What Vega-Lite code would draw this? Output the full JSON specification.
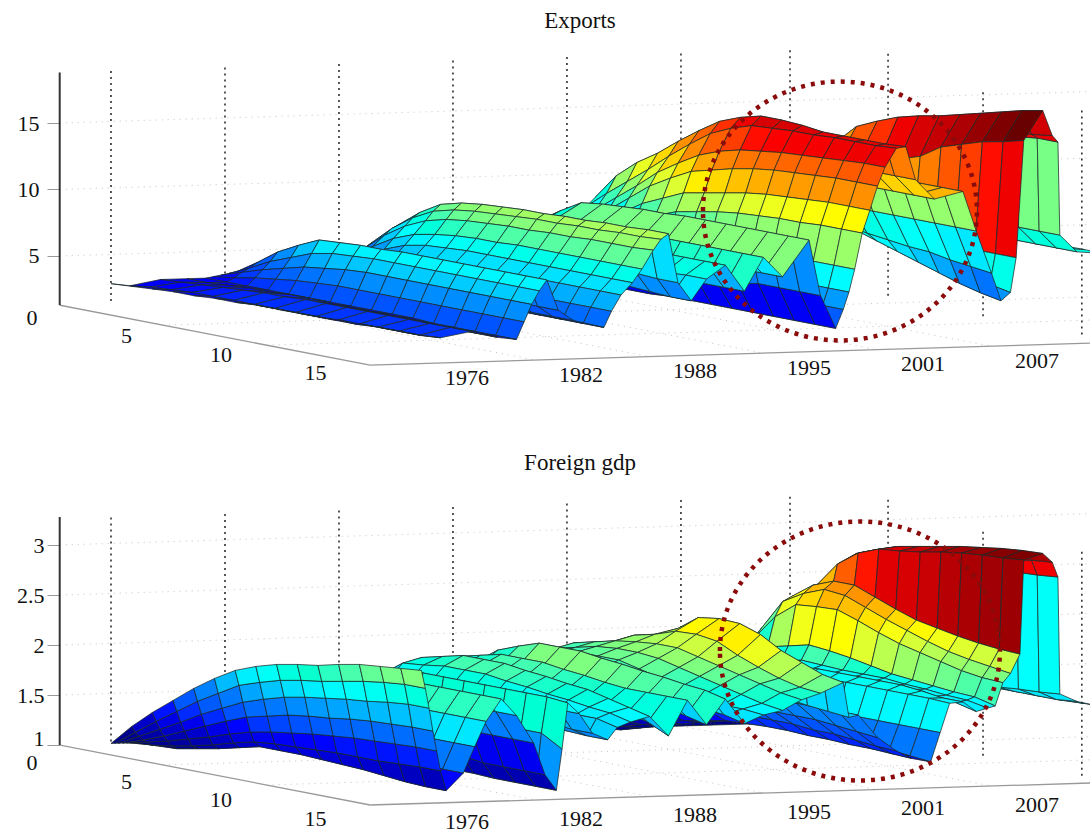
{"$schema":"https://vega.github.io/schema/vega-lite/v6.json","background":"white","padding":0,"spacing":0,"autosize":{"type":"pad"},"config":{"view":{"stroke":null},"concat":{"spacing":0}},
"datasets":{
"exports":[
{"t":36,"z":[4.8,5.4,6,6.8,7.5,7.8,8,8,8,8,8,8,8,8,8,8]},
{"t":34.5,"z":[4.8,5.4,6,6.8,7.5,7.8,8,8.1,8.2,8.2,8.2,8.2,8.2,8.2,8.2,8.2]},
{"t":33.6,"z":[4.8,5.6,6.5,7.3,8,8.3,8.5,8.8,9,9.1,9.2,9.3,9.4,9.5,9.5,9.5]},
{"t":33.5,"z":[4.8,5.9,7,8.5,10,11.5,13,13.5,14,14.5,15,15.5,16,16.3,16.5,16.5]},
{"t":33.2,"z":[5,6.2,7.5,9.2,11,12.5,14,14.5,15,15.3,15.5,15.9,16.3,16.6,16.8,17]},
{"t":32.7,"z":[5,6.5,8,10,12,13.5,15,15.7,16.3,16.7,17,17.4,17.8,18.2,18.6,18.9]},
{"t":31.7,"z":[5,6.5,8,9.5,11,12,12.5,12.8,13,13.5,14,15,15.5,16,16.3,16.7]},
{"t":31.3,"z":[5,5.7,6.5,7,7.6,7.8,8,8.1,8.2,8.1,8,8,7.9,7.9,7.9,7.9]},
{"t":31,"z":[5,5.7,6.5,7,7.5,7.7,7.9,7.9,7.9,7.5,7.1,6.7,6.3,5.9,5.6,5.3]},
{"t":30.5,"z":[5,5.7,6.5,7,7.5,7.7,7.9,7.9,7.9,7.4,6.9,6.4,5.9,5.4,5,4.7]},
{"t":30,"z":[5,6,7,7.5,8,8.2,8.3,8.3,8.3,8,7.8,7.6,7.5,7.2,7,6.8]},
{"t":29.2,"z":[5,6.2,7.5,8.5,9.5,9.7,9.8,9.8,9.8,9.9,10,10,10,10,10,10]},
{"t":28.5,"z":[5,6.5,8,9.2,10.5,11.2,11.8,12.2,12.5,12.7,12.8,12.9,13,13,13,13]},
{"t":27,"z":[5,6.5,8,9.2,10.5,11.3,12,12.2,12.4,12.5,12.5,12.5,12.5,12.5,12.5,12.5]},
{"t":26,"z":[6,7.5,9,10.2,11.5,12.6,13.5,13.8,14,14,14,14,14,14,14,14]},
{"t":25.5,"z":[8.2,10.1,11.4,12.4,13.6,14.7,15.7,16.3,16.7,16.7,16.6,16.4,16.4,16.4,16.4,16.5]},
{"t":25,"z":[7.5,8.8,10,11.2,12.5,13.7,14.8,15.5,16,16.1,16.2,16.2,16.3,16.3,16.3,16.4]},
{"t":24.4,"z":[6.5,7.6,8.8,10,11.3,12.3,13.2,13.8,14.2,14.4,14.6,14.7,14.8,14.9,15,15]},
{"t":24,"z":[5.6,6.8,7.9,9.1,10.3,11.2,12,12.4,12.8,13.1,13.3,13.4,13.5,13.6,13.6,13.6]},
{"t":23.6,"z":[5,6,7,8,9,9.7,10.4,10.7,11,11.3,11.5,11.6,11.7,11.8,11.8,11.8]},
{"t":23.2,"z":[4.5,5.2,6,6.9,7.8,8.4,9,9.3,9.6,9.8,9.9,10,10,10.1,10.1,10.1]},
{"t":22.8,"z":[4,4.5,5,5.6,6.2,6.6,7,7.1,7.2,7.3,7.3,7.4,7.4,7.4,7.4,7.4]},
{"t":22.5,"z":[3.5,3.8,4.2,4.6,5,5.3,5.5,5.6,5.6,5.7,5.7,5.7,5.7,5.7,5.7,5.7]},
{"t":22.2,"z":[3.2,3.5,3.7,3.9,4,4.1,4.2,4.3,4.3,4.3,4.3,4.4,4.4,4.4,4.4,4.4]},
{"t":21.8,"z":[2.9,2.9,2.9,2.9,2.9,2.9,2.9,3,3,3,3,3,3,3,3,3]},
{"t":21,"z":[3.6,4,4.5,4.8,5,5,5,5,5,5,5,5.2,5.5,5.5,5.5,5.5]},
{"t":20.4,"z":[4.2,5.8,7.3,8.3,9.2,9.4,9.5,9.6,9.6,9.7,9.7,9.7,9.7,9.7,9.7,9.7]},
{"t":19,"z":[4,5.2,6.5,7.3,8,8,8,7.8,7.5,7.2,7,7,7,7,7,7]},
{"t":18,"z":[4,5.2,6.5,7.3,8,8.3,8.5,8.5,8.5,8.5,8.5,8.5,8.5,8.5,8.5,8.5]},
{"t":17,"z":[4,5,6,6.5,7,6.9,6.8,6.6,6.5,6.2,6,6,6,6,6,6]},
{"t":16,"z":[4,5.2,6.5,7.2,7.8,7.9,8,8,8,8,8,8,8,8,8,8]},
{"t":15,"z":[3.8,4.9,6,6.5,7,7,7,6.9,6.8,6.8,6.8,6.8,6.8,6.9,7,7]},
{"t":14.2,"z":[3.8,4.6,5.5,5.9,6.2,6.1,6,5.9,5.8,5.8,5.8,5.7,5.6,5.5,5.4,5.4]},
{"t":13.5,"z":[3.8,4.9,6,6.5,7,7.3,7.5,7.4,7.3,7.1,7,7,7,6.9,6.8,6.8]},
{"t":13,"z":[3.9,5.8,7.3,8.5,9.4,9.8,10,10.1,10.2,10.2,10.3,10.3,10.4,10.4,10.5,10.5]},
{"t":12.6,"z":[3.8,5.6,7,8.1,8.9,9.3,9.5,9.6,9.7,9.8,9.8,9.9,9.9,10,10,10.1]},
{"t":12.2,"z":[3.7,5.2,6.5,7.5,8.2,8.6,8.8,8.9,9,9,9.1,9.1,9.2,9.2,9.2,9.3]},
{"t":11.6,"z":[3.5,4.7,5.7,6.6,7.2,7.5,7.7,7.8,7.8,7.9,7.9,7.9,7.9,7.9,7.9,7.9]},
{"t":11.1,"z":[3.3,4.2,5,5.8,6.4,6.7,6.8,6.9,6.9,6.9,6.9,6.9,6.9,6.9,6.9,6.9]},
{"t":10.5,"z":[3.1,3.8,4.4,5,5.5,5.8,5.9,6,6,6,6,6,6,6,6,6]},
{"t":10,"z":[3,3.4,3.8,4.2,4.5,4.7,4.8,4.8,4.8,4.8,4.8,4.8,4.8,4.8,4.8,4.8]},
{"t":9.6,"z":[3,3.2,3.3,3.4,3.5,3.5,3.6,3.6,3.6,3.6,3.6,3.6,3.6,3.6,3.6,3.6]},
{"t":8,"z":[3.2,3.4,3.6,3.8,4,4.1,4.2,4.2,4.2,4.2,4.2,4.2,4.2,4.2,4.2,4.2]},
{"t":7.2,"z":[3.3,3.6,4,4.4,4.8,4.9,5,5,5,5,5,5,5,5,5,5]},
{"t":6.6,"z":[3.4,4.4,5.5,6.3,7,7.1,7.2,7.2,7.3,7.3,7.3,7.3,7.3,7.3,7.3,7.3]},
{"t":6.2,"z":[3.3,4,4.8,5.4,6,6.3,6.4,6.5,6.5,6.5,6.5,6.5,6.5,6.5,6.5,6.5]},
{"t":5.8,"z":[3.2,3.7,4.2,4.6,5,5.2,5.4,5.5,5.5,5.5,5.5,5.5,5.5,5.5,5.5,5.5]},
{"t":5.4,"z":[3.1,3.3,3.6,3.8,4,4.1,4.2,4.2,4.2,4.2,4.2,4.2,4.2,4.2,4.2,4.2]},
{"t":5,"z":[3,3,3,3,3,3,3,3,3,3,3,2.9,2.9,2.9,2.9,2.9]},
{"t":4,"z":[3,3,3.1,3.2,3.2,3.3,3.3,3.2,3.2,3.2,3.2,3.2,3.1,3.1,3.1,3.1]},
{"t":2.6,"z":[3,3.1,3.2,3.3,3.4,3.5,3.5,3.6,3.6,3.6,3.6,3.6,3.6,3.6,3.6,3.6]},
{"t":1,"z":[2.6,2.8,2.9,3,3,3,3,3,3,3,3,3,3.1,3.1,3.1,3.2]},
{"t":0,"z":[2.8,2.9,3,3.1,3.1,3.2,3.2,3.3,3.3,3.3,3.3,3.4,3.4,3.4,3.4,3.4]}
],
"gdp":[
{"t":36,"z":[1,1.2,1.4,1.5,1.6,1.65,1.7,1.72,1.75,1.75,1.75,1.75,1.75,1.75,1.75,1.75]},
{"t":34.5,"z":[1,1.2,1.4,1.55,1.65,1.7,1.75,1.78,1.8,1.8,1.8,1.8,1.8,1.8,1.8,1.82]},
{"t":33.6,"z":[1,1.2,1.4,1.55,1.7,1.75,1.8,1.82,1.85,1.85,1.85,1.85,1.85,1.87,1.88,1.9]},
{"t":33.5,"z":[1,1.4,1.85,2.15,2.4,2.65,2.85,2.9,2.95,2.97,3,3.01,3.03,3.04,3.05,3.07]},
{"t":33.2,"z":[1,1.4,1.85,2.15,2.4,2.65,2.85,2.93,3,3.03,3.05,3.08,3.12,3.16,3.2,3.22]},
{"t":32.7,"z":[1,1.45,1.9,2.2,2.5,2.75,2.95,3.03,3.1,3.14,3.18,3.22,3.25,3.28,3.3,3.31]},
{"t":31.7,"z":[1,1.45,1.9,2.16,2.45,2.6,2.85,3,3.08,3.1,3.13,3.17,3.2,3.22,3.23,3.25]},
{"t":31.5,"z":[1,1.4,1.85,2.15,2.45,2.6,2.68,2.68,2.6,2.52,2.45,2.41,2.37,2.34,2.32,2.31]},
{"t":31,"z":[1,1.4,1.8,2.1,2.4,2.52,2.6,2.58,2.5,2.42,2.35,2.28,2.22,2.18,2.15,2.12]},
{"t":30.6,"z":[1,1.35,1.75,2,2.25,2.41,2.43,2.44,2.37,2.29,2.22,2.17,2.12,2.07,2.04,2.03]},
{"t":30.2,"z":[1,1.3,1.6,1.8,1.95,2,2.05,2.03,2,1.96,1.92,1.9,1.88,1.86,1.85,1.8]},
{"t":29.8,"z":[1,1.3,1.55,1.7,1.8,1.85,1.9,1.89,1.88,1.88,1.88,1.86,1.85,1.83,1.82,1.78]},
{"t":29.2,"z":[1,1.25,1.5,1.65,1.75,1.8,1.85,1.85,1.85,1.85,1.85,1.85,1.85,1.82,1.8,1.75]},
{"t":28.5,"z":[1,1.22,1.45,1.6,1.7,1.78,1.85,1.88,1.9,1.9,1.9,1.9,1.9,1.88,1.85,1.85]},
{"t":27.8,"z":[1,1.2,1.4,1.5,1.6,1.65,1.7,1.75,1.8,1.83,1.85,1.85,1.85,1.85,1.85,1.84]},
{"t":27.3,"z":[1,1.12,1.25,1.33,1.4,1.45,1.5,1.53,1.55,1.55,1.55,1.55,1.55,1.55,1.55,1.55]},
{"t":26.8,"z":[0.98,1.04,1.1,1.16,1.22,1.27,1.3,1.33,1.35,1.35,1.35,1.34,1.32,1.3,1.28,1.26]},
{"t":25.8,"z":[1,1.06,1.12,1.18,1.24,1.28,1.32,1.33,1.34,1.34,1.33,1.33,1.32,1.32,1.31,1.3]},
{"t":25,"z":[1,1.08,1.15,1.23,1.3,1.36,1.41,1.43,1.45,1.45,1.45,1.43,1.43,1.41,1.39,1.38]},
{"t":24,"z":[1,1.12,1.22,1.33,1.4,1.47,1.54,1.56,1.58,1.58,1.58,1.58,1.58,1.56,1.54,1.52]},
{"t":23,"z":[1,1.2,1.4,1.52,1.6,1.68,1.75,1.75,1.75,1.75,1.75,1.75,1.75,1.75,1.75,1.75]},
{"t":22.5,"z":[1,1.28,1.55,1.66,1.75,1.8,1.85,1.85,1.85,1.85,1.85,1.82,1.8,1.77,1.75,1.73]},
{"t":22.2,"z":[1,1.3,1.6,1.8,1.95,2.03,2.2,2.3,2.45,2.48,2.47,2.4,2.28,2.2,2.12,2.08]},
{"t":21,"z":[1,1.35,1.7,1.9,2.05,2.1,2.2,2.25,2.32,2.33,2.3,2.2,2.12,2.05,2,1.98]},
{"t":20,"z":[1,1.35,1.7,1.9,2.05,2.1,2.15,2.18,2.2,2.2,2.15,2.1,2.05,2,1.95,1.92]},
{"t":19,"z":[1,1.3,1.65,1.85,2,2.05,2.1,2.12,2.12,2.1,2.05,2,1.95,1.9,1.85,1.82]},
{"t":18,"z":[1,1.3,1.6,1.8,1.95,2,2.05,2.05,2.05,2,1.95,1.9,1.85,1.8,1.8,1.78]},
{"t":17,"z":[1,1.3,1.6,1.75,1.85,1.9,1.95,1.95,1.95,1.92,1.9,1.85,1.8,1.77,1.75,1.7]},
{"t":16,"z":[1,1.32,1.65,1.85,2,2.08,2.15,2.15,2.15,2.12,2.1,2.07,2.05,2.02,2,1.95]},
{"t":15,"z":[1,1.28,1.55,1.72,1.85,1.9,1.95,1.95,1.95,1.92,1.9,1.87,1.85,1.8,1.75,1.7]},
{"t":14,"z":[1,1.3,1.6,1.8,1.95,2,2.05,2.05,2.05,2.02,2,1.97,1.95,1.95,1.95,1.95]},
{"t":13,"z":[1,1.28,1.55,1.72,1.85,1.9,1.95,1.92,1.9,1.87,1.85,1.82,1.8,1.75,1.7,1.6]},
{"t":12,"z":[1,1.3,1.6,1.8,1.95,2,2.05,2.05,2.05,2.02,2,1.97,1.95,1.9,1.85,1.8]},
{"t":11,"z":[1,1.28,1.55,1.75,1.9,1.92,1.95,1.95,1.95,1.92,1.9,1.87,1.85,1.82,1.8,1.75]},
{"t":10.3,"z":[1,1.25,1.5,1.65,1.75,1.78,1.8,1.8,1.8,1.77,1.75,1.75,1.75,1.75,1.75,1.7]},
{"t":9.8,"z":[1,1.22,1.45,1.6,1.7,1.7,1.7,1.7,1.7,1.67,1.65,1.62,1.6,1.59,1.58,1.58]},
{"t":9,"z":[1,1.22,1.45,1.6,1.7,1.72,1.75,1.75,1.75,1.75,1.75,1.72,1.7,1.67,1.65,1.65]},
{"t":8.3,"z":[1,1.25,1.5,1.65,1.75,1.82,1.9,1.91,1.92,1.91,1.9,1.9,1.9,1.87,1.85,1.85]},
{"t":7.7,"z":[1,1.25,1.5,1.65,1.8,1.88,1.95,1.97,1.98,1.98,1.98,1.98,1.98,1.98,1.98,1.96]},
{"t":7.4,"z":[1,1.18,1.35,1.45,1.55,1.58,1.6,1.61,1.62,1.62,1.62,1.62,1.62,1.62,1.62,1.5]},
{"t":7.1,"z":[1,1.08,1.15,1.15,1.15,1.12,1.1,1.1,1.1,1.1,1.1,1.1,1.09,1.09,1.09,1.09]},
{"t":6.5,"z":[1,1.12,1.25,1.28,1.3,1.3,1.3,1.3,1.3,1.3,1.3,1.28,1.25,1.25,1.25,1.25]},
{"t":5.9,"z":[1,1.2,1.4,1.48,1.55,1.58,1.6,1.58,1.57,1.57,1.57,1.57,1.57,1.57,1.57,1.57]},
{"t":5,"z":[1,1.25,1.5,1.63,1.75,1.8,1.85,1.85,1.85,1.85,1.85,1.85,1.85,1.85,1.85,1.85]},
{"t":4.2,"z":[1,1.27,1.55,1.72,1.88,1.94,1.98,2,2.02,2.02,2.02,2.02,2.02,2.02,2.02,2.02]},
{"t":3.4,"z":[1,1.22,1.45,1.58,1.7,1.75,1.78,1.79,1.8,1.8,1.8,1.8,1.8,1.8,1.8,1.8]},
{"t":2.8,"z":[1,1.15,1.3,1.4,1.5,1.53,1.55,1.55,1.55,1.55,1.55,1.55,1.55,1.55,1.55,1.55]},
{"t":2.2,"z":[1,1.06,1.12,1.18,1.25,1.28,1.3,1.3,1.3,1.3,1.3,1.3,1.3,1.3,1.29,1.29]},
{"t":1.3,"z":[1,1.01,1.02,1.06,1.1,1.15,1.2,1.2,1.2,1.19,1.18,1.17,1.15,1.13,1.12,1.12]},
{"t":1,"z":[1,1.02,1.05,1.09,1.14,1.2,1.25,1.27,1.28,1.29,1.3,1.3,1.3,1.31,1.32,1.32]},
{"t":0.8,"z":[1,1.05,1.1,1.16,1.22,1.29,1.35,1.39,1.42,1.45,1.47,1.49,1.5,1.51,1.52,1.52]},
{"t":0.6,"z":[1,1.07,1.15,1.24,1.33,1.42,1.5,1.55,1.6,1.63,1.65,1.68,1.7,1.71,1.72,1.72]},
{"t":0.4,"z":[1,1.11,1.22,1.33,1.45,1.55,1.65,1.72,1.78,1.82,1.85,1.88,1.9,1.93,1.95,1.95]},
{"t":0.2,"z":[1,1.15,1.3,1.44,1.58,1.7,1.82,1.89,1.95,1.99,2.02,2.06,2.1,2.13,2.15,2.15]},
{"t":0,"z":[1,1.21,1.39,1.55,1.71,1.85,1.97,2.05,2.11,2.15,2.18,2.23,2.27,2.29,2.31,2.33]}
],
"years":[{"t":0,"label":"1976"},{"t":6,"label":"1982"},{"t":12,"label":"1988"},{"t":18,"label":"1995"},{"t":24,"label":"2001"},{"t":30,"label":"2007"}],
"horizons":[{"h":0,"label":"0"},{"h":5,"label":"5"},{"h":10,"label":"10"},{"h":15,"label":"15"}],
"segE":[
{"kind":"v","t1":0,"h1":0,"z1":18.8,"t2":0,"h2":0,"z2":1.3},{"kind":"v","t1":6,"h1":0,"z1":18.8,"t2":6,"h2":0,"z2":1.3},{"kind":"v","t1":12,"h1":0,"z1":18.8,"t2":12,"h2":0,"z2":1.3},{"kind":"v","t1":18,"h1":0,"z1":18.8,"t2":18,"h2":0,"z2":1.3},{"kind":"v","t1":24,"h1":0,"z1":18.8,"t2":24,"h2":0,"z2":1.3},{"kind":"v","t1":30,"h1":0,"z1":18.8,"t2":30,"h2":0,"z2":1.3},{"kind":"v","t1":35.74,"h1":0,"z1":18.8,"t2":35.74,"h2":0,"z2":1.3},{"kind":"v","t1":40.9,"h1":0,"z1":18.3,"t2":40.9,"h2":0,"z2":-0.2},{"kind":"v","t1":45.9,"h1":0,"z1":15.2,"t2":45.9,"h2":0,"z2":-1.7},{"kind":"v","t1":51.1,"h1":0,"z1":13.6,"t2":51.1,"h2":0,"z2":-3.4},
{"kind":"g","t1":-2.7,"h1":0,"z1":5,"t2":51.6,"h2":0,"z2":5},{"kind":"g","t1":-2.7,"h1":0,"z1":10,"t2":51.6,"h2":0,"z2":10},{"kind":"g","t1":-2.7,"h1":0,"z1":15,"t2":51.6,"h2":0,"z2":15},
{"kind":"g","t1":-2.7,"h1":5,"z1":1.3,"t2":46,"h2":5,"z2":1.3},{"kind":"g","t1":-2.7,"h1":10,"z1":1.3,"t2":42,"h2":10,"z2":1.3},{"kind":"g","t1":6,"h1":0,"z1":1.3,"t2":6,"h2":15,"z2":1.3},{"kind":"g","t1":12,"h1":0,"z1":1.3,"t2":12,"h2":15,"z2":1.3},{"kind":"g","t1":18,"h1":0,"z1":1.3,"t2":18,"h2":15,"z2":1.3},{"kind":"g","t1":24,"h1":0,"z1":1.3,"t2":24,"h2":15,"z2":1.3},{"kind":"g","t1":30,"h1":0,"z1":1.3,"t2":30,"h2":15,"z2":1.3},
{"kind":"a","t1":-2.7,"h1":0,"z1":1.3,"t2":-2.7,"h2":15,"z2":1.3},{"kind":"a","t1":-2.7,"h1":15,"z1":1.3,"t2":36,"h2":15,"z2":1.3},
{"kind":"z","t1":-2.7,"h1":0,"z1":18.8,"t2":-2.7,"h2":0,"z2":1.3}
],
"segG":[
{"kind":"v","t1":0,"h1":0,"z1":3.26,"t2":0,"h2":0,"z2":1},{"kind":"v","t1":6,"h1":0,"z1":3.26,"t2":6,"h2":0,"z2":1},{"kind":"v","t1":12,"h1":0,"z1":3.26,"t2":12,"h2":0,"z2":1},{"kind":"v","t1":18,"h1":0,"z1":3.26,"t2":18,"h2":0,"z2":1},{"kind":"v","t1":24,"h1":0,"z1":3.26,"t2":24,"h2":0,"z2":1},{"kind":"v","t1":30,"h1":0,"z1":3.26,"t2":30,"h2":0,"z2":1},{"kind":"v","t1":35.74,"h1":0,"z1":3.26,"t2":35.74,"h2":0,"z2":1},{"kind":"v","t1":40.9,"h1":0,"z1":3.2,"t2":40.9,"h2":0,"z2":0.8},{"kind":"v","t1":45.9,"h1":0,"z1":2.85,"t2":45.9,"h2":0,"z2":0.59},{"kind":"v","t1":51.1,"h1":0,"z1":2.62,"t2":51.1,"h2":0,"z2":0.36},
{"kind":"g","t1":-2.7,"h1":0,"z1":1.5,"t2":51.6,"h2":0,"z2":1.5},{"kind":"g","t1":-2.7,"h1":0,"z1":2,"t2":51.6,"h2":0,"z2":2},{"kind":"g","t1":-2.7,"h1":0,"z1":2.5,"t2":51.6,"h2":0,"z2":2.5},{"kind":"g","t1":-2.7,"h1":0,"z1":3,"t2":51.6,"h2":0,"z2":3},
{"kind":"g","t1":-2.7,"h1":5,"z1":1,"t2":46,"h2":5,"z2":1},{"kind":"g","t1":-2.7,"h1":10,"z1":1,"t2":42,"h2":10,"z2":1},{"kind":"g","t1":6,"h1":0,"z1":1,"t2":6,"h2":15,"z2":1},{"kind":"g","t1":12,"h1":0,"z1":1,"t2":12,"h2":15,"z2":1},{"kind":"g","t1":18,"h1":0,"z1":1,"t2":18,"h2":15,"z2":1},{"kind":"g","t1":24,"h1":0,"z1":1,"t2":24,"h2":15,"z2":1},{"kind":"g","t1":30,"h1":0,"z1":1,"t2":30,"h2":15,"z2":1},
{"kind":"a","t1":-2.7,"h1":0,"z1":1,"t2":-2.7,"h2":15,"z2":1},{"kind":"a","t1":-2.7,"h1":15,"z1":1,"t2":36,"h2":15,"z2":1},
{"kind":"z","t1":-2.7,"h1":0,"z1":3.28,"t2":-2.7,"h2":0,"z2":1}
]
},
"vconcat":[
{"width":1030,"height":400,
"title":{"text":"Exports","font":"Liberation Serif","fontSize":23,"fontWeight":"normal","anchor":"middle","frame":"group","offset":-33,"dx":5,"color":"#111"},
"encoding":{"x":{"field":"px","type":"quantitative","axis":null,"scale":{"domain":[-2.684,51.53],"nice":false,"zero":false}},
"y":{"field":"py","type":"quantitative","scale":{"domain":[-5.83,24.25],"nice":false,"zero":false},"axis":{"values":[5,10,15],"title":null,"grid":false,"domain":false,"tickColor":"#999","tickSize":13,"labelFont":"Liberation Serif","labelFontSize":22,"labelColor":"#111","labelPadding":8,"minExtent":60,"maxExtent":60}}},
"layer":[
{"data":{"name":"segE"},"transform":[{"filter":"datum.kind=='g'"},{"calculate":"datum.t1+1.0895*datum.h1","as":"px"},{"calculate":"datum.t2+1.0895*datum.h2","as":"px2"},{"calculate":"datum.z1-(4*datum.h1-0.58*(datum.t1+2.7))/13.3","as":"py"},{"calculate":"datum.z2-(4*datum.h2-0.58*(datum.t2+2.7))/13.3","as":"py2"}],"mark":{"type":"rule","clip":true,"color":"#c4c4c4","strokeWidth":1,"strokeDash":[1,5]},"encoding":{"x2":{"field":"px2"},"y2":{"field":"py2"}}},
{"data":{"name":"segE"},"transform":[{"filter":"datum.kind=='v'"},{"calculate":"datum.t1+1.0895*datum.h1","as":"px"},{"calculate":"datum.t2+1.0895*datum.h2","as":"px2"},{"calculate":"datum.z1-(4*datum.h1-0.58*(datum.t1+2.7))/13.3","as":"py"},{"calculate":"datum.z2-(4*datum.h2-0.58*(datum.t2+2.7))/13.3","as":"py2"}],"mark":{"type":"rule","clip":true,"color":"#222","strokeWidth":1.5,"strokeDash":[2,4]},"encoding":{"x2":{"field":"px2"},"y2":{"field":"py2"}}},
{"data":{"name":"segE"},"transform":[{"filter":"datum.kind=='a'"},{"calculate":"datum.t1+1.0895*datum.h1","as":"px"},{"calculate":"datum.t2+1.0895*datum.h2","as":"px2"},{"calculate":"datum.z1-(4*datum.h1-0.58*(datum.t1+2.7))/13.3","as":"py"},{"calculate":"datum.z2-(4*datum.h2-0.58*(datum.t2+2.7))/13.3","as":"py2"}],"mark":{"type":"rule","clip":true,"color":"#999","strokeWidth":1.3},"encoding":{"x2":{"field":"px2"},"y2":{"field":"py2"}}},
{"data":{"name":"segE"},"transform":[{"filter":"datum.kind=='z'"},{"calculate":"datum.t1+1.0895*datum.h1","as":"px"},{"calculate":"datum.t2+1.0895*datum.h2","as":"px2"},{"calculate":"datum.z1-(4*datum.h1-0.58*(datum.t1+2.7))/13.3","as":"py"},{"calculate":"datum.z2-(4*datum.h2-0.58*(datum.t2+2.7))/13.3","as":"py2"}],"mark":{"type":"rule","color":"#333","strokeWidth":2},"encoding":{"x2":{"field":"px2"},"y2":{"field":"py2"}}},
{"data":{"name":"exports"},"transform":[{"calculate":"[0,1,2,3,4,5,6,7,8,9,10,11,12,13,14,15]","as":"h"},{"flatten":["z","h"]},
{"window":[{"op":"lead","field":"t","as":"t2"},{"op":"lead","field":"z","as":"z2"}],"sort":[{"field":"t","order":"ascending"}],"groupby":["h"]},
{"window":[{"op":"lead","field":"h","as":"h2"},{"op":"lead","field":"z","as":"zb"},{"op":"lead","field":"z2","as":"z2b"}],"sort":[{"field":"h","order":"ascending"}],"groupby":["t"]},
{"filter":"datum.t2!=null && datum.h2!=null"},
{"calculate":"datum.t+'_'+datum.h","as":"q"},
{"calculate":"[datum.t+1.0895*datum.h,datum.t2+1.0895*datum.h,datum.t2+1.0895*datum.h2,datum.t+1.0895*datum.h2,datum.t+1.0895*datum.h]","as":"px"},
{"calculate":"[datum.z-(4*datum.h-0.58*(datum.t+2.7))/13.3,datum.z2-(4*datum.h-0.58*(datum.t2+2.7))/13.3,datum.z2b-(4*datum.h2-0.58*(datum.t2+2.7))/13.3,datum.zb-(4*datum.h2-0.58*(datum.t+2.7))/13.3,datum.z-(4*datum.h-0.58*(datum.t+2.7))/13.3]","as":"py"},
{"calculate":"[0,1,2,3,4]","as":"v"},{"flatten":["px","py","v"]}],
"mark":{"type":"line","clip":true,"stroke":"#1c2a2a","strokeWidth":1,"strokeOpacity":0.75,"strokeJoin":"round"},
"encoding":{"detail":{"field":"q"},"order":{"field":"v"},"fill":{"field":"z2","type":"quantitative","legend":null,"scale":{"domain":[1,18.2],"range":["#00008f","#0000ff","#007fff","#00ffff","#7fff7f","#ffff00","#ff7f00","#ff0000","#7f0000"]}}}},
{"data":{"values":[{"t":38.37,"z":8.38}]},"transform":[{"calculate":"datum.t","as":"px"},{"calculate":"datum.z","as":"py"}],"mark":{"type":"point","shape":"M-1,0A1,0.945,0,1,1,1,0A1,0.945,0,1,1,-1,0Z","size":75076,"filled":false,"stroke":"#8b0a0a","strokeWidth":4.5,"strokeDash":[4,6],"opacity":1}},
{"data":{"name":"years"},"transform":[{"calculate":"datum.t+1.0895*17.2","as":"px"},{"calculate":"0.85-(68.8-0.58*(datum.t+2.7))/13.3","as":"py"}],"mark":{"type":"text","font":"Liberation Serif","fontSize":22,"color":"#111","align":"center","baseline":"middle"},"encoding":{"text":{"field":"label","type":"nominal"}}},
{"data":{"name":"horizons"},"transform":[{"calculate":"(32+18.9*datum.h-111)/19","as":"px"},{"calculate":"(322.5-318-3.7*datum.h)/13.3","as":"py"}],"mark":{"type":"text","font":"Liberation Serif","fontSize":22,"color":"#111","align":"center","baseline":"middle"},"encoding":{"text":{"field":"label","type":"nominal"}}}
]},
{"width":1030,"height":433,
"title":{"text":"Foreign gdp","font":"Liberation Serif","fontSize":23,"fontWeight":"normal","anchor":"middle","frame":"group","offset":-75,"dx":5,"color":"#111"},
"encoding":{"x":{"field":"px","type":"quantitative","axis":null,"scale":{"domain":[-2.684,51.53],"nice":false,"zero":false}},
"y":{"field":"py","type":"quantitative","scale":{"domain":[0.12,4.45],"nice":false,"zero":false},"axis":{"values":[1,1.5,2,2.5,3],"format":".1~f","title":null,"grid":false,"domain":false,"tickColor":"#999","tickSize":13,"labelFont":"Liberation Serif","labelFontSize":22,"labelColor":"#111","labelPadding":3,"labelOffset":{"condition":{"test":"datum.value==1","value":-7},"value":0},"minExtent":60,"maxExtent":60}}},
"layer":[
{"data":{"name":"segG"},"transform":[{"filter":"datum.kind=='g'"},{"calculate":"datum.t1+1.0895*datum.h1","as":"px"},{"calculate":"datum.t2+1.0895*datum.h2","as":"px2"},{"calculate":"datum.z1-(4*datum.h1-0.58*(datum.t1+2.7))/100","as":"py"},{"calculate":"datum.z2-(4*datum.h2-0.58*(datum.t2+2.7))/100","as":"py2"}],"mark":{"type":"rule","clip":true,"color":"#c4c4c4","strokeWidth":1,"strokeDash":[1,5]},"encoding":{"x2":{"field":"px2"},"y2":{"field":"py2"}}},
{"data":{"name":"segG"},"transform":[{"filter":"datum.kind=='v'"},{"calculate":"datum.t1+1.0895*datum.h1","as":"px"},{"calculate":"datum.t2+1.0895*datum.h2","as":"px2"},{"calculate":"datum.z1-(4*datum.h1-0.58*(datum.t1+2.7))/100","as":"py"},{"calculate":"datum.z2-(4*datum.h2-0.58*(datum.t2+2.7))/100","as":"py2"}],"mark":{"type":"rule","clip":true,"color":"#222","strokeWidth":1.5,"strokeDash":[2,4]},"encoding":{"x2":{"field":"px2"},"y2":{"field":"py2"}}},
{"data":{"name":"segG"},"transform":[{"filter":"datum.kind=='a'"},{"calculate":"datum.t1+1.0895*datum.h1","as":"px"},{"calculate":"datum.t2+1.0895*datum.h2","as":"px2"},{"calculate":"datum.z1-(4*datum.h1-0.58*(datum.t1+2.7))/100","as":"py"},{"calculate":"datum.z2-(4*datum.h2-0.58*(datum.t2+2.7))/100","as":"py2"}],"mark":{"type":"rule","clip":true,"color":"#999","strokeWidth":1.3},"encoding":{"x2":{"field":"px2"},"y2":{"field":"py2"}}},
{"data":{"name":"segG"},"transform":[{"filter":"datum.kind=='z'"},{"calculate":"datum.t1+1.0895*datum.h1","as":"px"},{"calculate":"datum.t2+1.0895*datum.h2","as":"px2"},{"calculate":"datum.z1-(4*datum.h1-0.58*(datum.t1+2.7))/100","as":"py"},{"calculate":"datum.z2-(4*datum.h2-0.58*(datum.t2+2.7))/100","as":"py2"}],"mark":{"type":"rule","color":"#333","strokeWidth":2},"encoding":{"x2":{"field":"px2"},"y2":{"field":"py2"}}},
{"data":{"name":"gdp"},"transform":[{"calculate":"[0,1,2,3,4,5,6,7,8,9,10,11,12,13,14,15]","as":"h"},{"flatten":["z","h"]},
{"window":[{"op":"lead","field":"t","as":"t2"},{"op":"lead","field":"z","as":"z2"}],"sort":[{"field":"t","order":"ascending"}],"groupby":["h"]},
{"window":[{"op":"lead","field":"h","as":"h2"},{"op":"lead","field":"z","as":"zb"},{"op":"lead","field":"z2","as":"z2b"}],"sort":[{"field":"h","order":"ascending"}],"groupby":["t"]},
{"filter":"datum.t2!=null && datum.h2!=null"},
{"calculate":"datum.t+'_'+datum.h","as":"q"},
{"calculate":"[datum.t+1.0895*datum.h,datum.t2+1.0895*datum.h,datum.t2+1.0895*datum.h2,datum.t+1.0895*datum.h2,datum.t+1.0895*datum.h]","as":"px"},
{"calculate":"[datum.z-(4*datum.h-0.58*(datum.t+2.7))/100,datum.z2-(4*datum.h-0.58*(datum.t2+2.7))/100,datum.z2b-(4*datum.h2-0.58*(datum.t2+2.7))/100,datum.zb-(4*datum.h2-0.58*(datum.t+2.7))/100,datum.z-(4*datum.h-0.58*(datum.t+2.7))/100]","as":"py"},
{"calculate":"[0,1,2,3,4]","as":"v"},{"flatten":["px","py","v"]}],
"mark":{"type":"line","clip":true,"stroke":"#1c2a2a","strokeWidth":1,"strokeOpacity":0.75,"strokeJoin":"round"},
"encoding":{"detail":{"field":"q"},"order":{"field":"v"},"fill":{"field":"z2","type":"quantitative","legend":null,"scale":{"domain":[1,3.3],"range":["#00008f","#0000ff","#007fff","#00ffff","#7fff7f","#ffff00","#ff7f00","#ff0000","#7f0000"]}}}},
{"data":{"values":[{"t":39.42,"z":1.94}]},"transform":[{"calculate":"datum.t","as":"px"},{"calculate":"datum.z","as":"py"}],"mark":{"type":"point","shape":"M-1,0A1,0.925,0,1,1,1,0A1,0.925,0,1,1,-1,0Z","size":78400,"filled":false,"stroke":"#8b0a0a","strokeWidth":4.5,"strokeDash":[4,6],"opacity":1}},
{"data":{"name":"years"},"transform":[{"calculate":"datum.t+1.0895*17.2","as":"px"},{"calculate":"0.9-(68.8-0.58*(datum.t+2.7))/100","as":"py"}],"mark":{"type":"text","font":"Liberation Serif","fontSize":22,"color":"#111","align":"center","baseline":"middle"},"encoding":{"text":{"field":"label","type":"nominal"}}},
{"data":{"name":"horizons"},"transform":[{"calculate":"(32+18.9*datum.h-111)/19","as":"px"},{"calculate":"(845-763-3.7*datum.h)/100","as":"py"}],"mark":{"type":"text","font":"Liberation Serif","fontSize":22,"color":"#111","align":"center","baseline":"middle"},"encoding":{"text":{"field":"label","type":"nominal"}}}
]}
],"resolve":{"scale":{"fill":"independent","x":"independent","y":"independent"}}}
